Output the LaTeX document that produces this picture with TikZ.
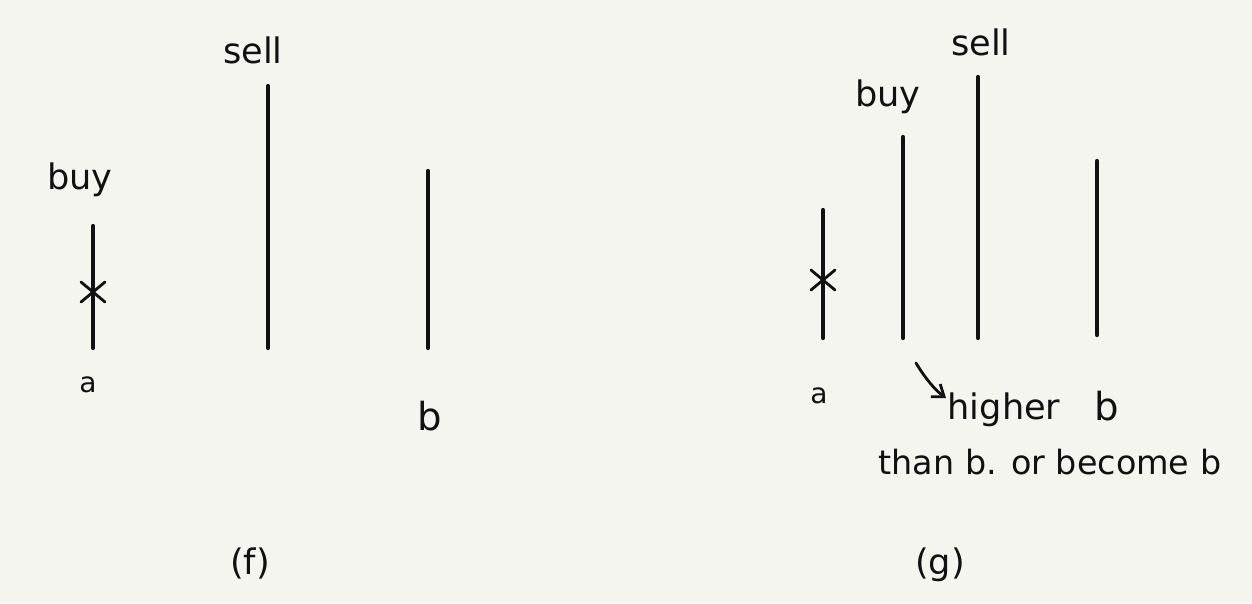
\documentclass[tikz,border=0pt]{standalone}
\usepackage{fontspec}
\setmainfont{DejaVu Sans}
\usetikzlibrary{arrows.meta,calc}
\definecolor{bg}{HTML}{F5F5F0}
\definecolor{ink}{HTML}{111111}
\begin{document}
\begin{tikzpicture}[x=0.02cm,y=-0.02cm,
  bar/.style={draw=ink,line width=2.4pt,line cap=round},
  lbl/.style={font=\fontsize{20}{22}\selectfont,text=ink,inner sep=0pt},
  smalllbl/.style={font=\fontsize{16}{18}\selectfont,text=ink,inner sep=0pt},
  biglbl/.style={font=\fontsize{22}{24}\selectfont,text=ink,inner sep=0pt}]
\fill[bg] (0,0) rectangle (1252,603);
\useasboundingbox (0,0) rectangle (1252,603);
% panel f
\coordinate (fa1) at (93,226); \coordinate (fa2) at (93,348);
\coordinate (fs1) at (268,86); \coordinate (fs2) at (268,348);
\coordinate (fb1) at (428,171); \coordinate (fb2) at (428,348);
\draw[bar] (fa1) -- (fa2);
\draw[bar] (fs1) -- (fs2);
\draw[bar] (fb1) -- (fb2);
\coordinate (fx) at (93,292);
\draw[ink,line width=1.6pt,line cap=round] ($(fx)+(-12,-10)$) -- ($(fx)+(12,10)$) ($(fx)+(-12,10)$) -- ($(fx)+(12,-10)$);
\node[lbl] (fbuy) at (80,180) {buy};
\node[lbl] (fsell) at (253,50) {sell};
\node[smalllbl] (fal) at (88,385) {a};
\node[biglbl] (fbl) at (430,416) {b};
\node[lbl] (fcap) at (250,563) {(f)};
% panel g
\coordinate (ga1) at (823,210); \coordinate (ga2) at (823,338);
\coordinate (gy1) at (903,137); \coordinate (gy2) at (903,338);
\coordinate (gs1) at (978,77); \coordinate (gs2) at (978,338);
\coordinate (gb1) at (1097,161); \coordinate (gb2) at (1097,335);
\draw[bar] (ga1) -- (ga2);
\draw[bar] (gy1) -- (gy2);
\draw[bar] (gs1) -- (gs2);
\draw[bar] (gb1) -- (gb2);
\coordinate (gx) at (823,280);
\draw[ink,line width=1.6pt,line cap=round] ($(gx)+(-12,-10)$) -- ($(gx)+(12,10)$) ($(gx)+(-12,10)$) -- ($(gx)+(12,-10)$);
\node[lbl] (gbuy) at (888,97) {buy};
\node[lbl] (gsell) at (981,42) {sell};
\node[smalllbl] (gal) at (819,396) {a};
\node[lbl] (higher) at (1004,410) {higher};
\node[biglbl] (gbl) at (1107,406) {b};
\node[font=\fontsize{19}{21}\selectfont,text=ink,inner sep=0pt] (than) at (1050,462) {than b. or become b};
\node[lbl] (gcap) at (940,565) {(g)};
\coordinate (arrs) at (916,363);
\coordinate (arre) at (946,398);
\draw[ink,line width=1.6pt,line cap=round,-{Straight Barb[length=6pt,width=9pt]}] (arrs) .. controls (925,378) and (935,390) .. (arre);
\end{tikzpicture}
\end{document}
